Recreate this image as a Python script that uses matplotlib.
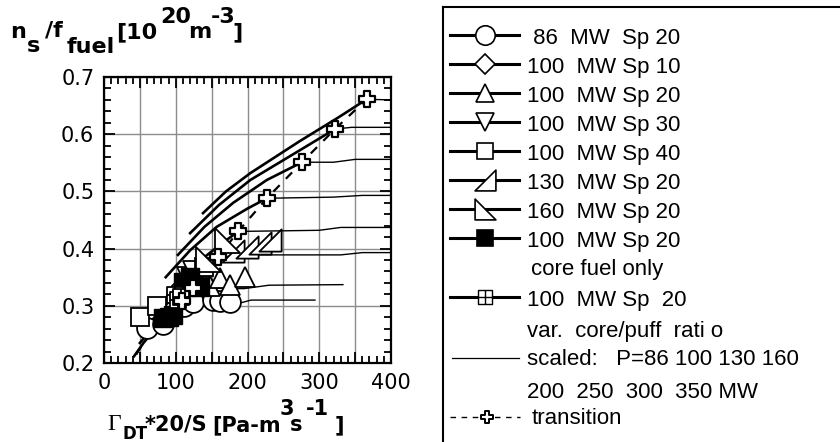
import matplotlib
matplotlib.use("Agg")
import matplotlib.pyplot as plt
from matplotlib.path import Path
from matplotlib.ticker import MultipleLocator, FuncFormatter

# scaled curves: rising part (thick) up to the transition point
P_scaled = [86, 100, 130, 160, 200, 250, 300, 350]
rise_x = {
    86: [42, 55, 70, 90, 109],
    100: [50, 70, 95, 124],
    130: [62, 85, 110, 135, 159],
    160: [72, 100, 130, 160, 187],
    200: [86, 120, 157, 200, 227],
    250: [103, 140, 180, 227, 276],
    300: [120, 160, 204, 273, 322],
    350: [138, 170, 204, 273, 325, 366],
}
rise_y = {
    86: [0.212, 0.235, 0.258, 0.287, 0.309],
    100: [0.235, 0.265, 0.300, 0.331],
    130: [0.268, 0.300, 0.333, 0.362, 0.385],
    160: [0.292, 0.335, 0.375, 0.405, 0.430],
    200: [0.350, 0.397, 0.438, 0.470, 0.488],
    250: [0.389, 0.438, 0.480, 0.520, 0.551],
    300: [0.427, 0.476, 0.520, 0.572, 0.609],
    350: [0.462, 0.500, 0.532, 0.588, 0.628, 0.661],
}
# flat part (thin) after the transition
flat_x = {
    86: [109, 190, 205, 294],
    100: [124, 195, 230, 333],
    130: [159, 199, 330, 360, 400],
    160: [187, 300, 330, 400],
    200: [227, 320, 360, 400],
    250: [276, 320, 350, 400],
    300: [322, 345, 400],
    350: [366, 400],
}
flat_y = {
    86: [0.309, 0.305, 0.310, 0.310],
    100: [0.331, 0.330, 0.336, 0.337],
    130: [0.385, 0.389, 0.389, 0.393, 0.393],
    160: [0.430, 0.432, 0.437, 0.437],
    200: [0.488, 0.490, 0.493, 0.493],
    250: [0.551, 0.551, 0.556, 0.556],
    300: [0.609, 0.612, 0.612],
    350: [0.661, 0.660],
}

# transition line
trans_x = [45, 60, 109, 124, 159, 187, 227, 276, 322, 366]
trans_y = [0.215, 0.245, 0.309, 0.331, 0.385, 0.430, 0.488, 0.551, 0.609, 0.661]
trans_mark_x = trans_x[2:]
trans_mark_y = trans_y[2:]

# experimental points
circ_x = [60, 82, 112, 124, 152, 162, 176]
circ_y = [0.262, 0.268, 0.300, 0.307, 0.310, 0.309, 0.306]
diam_x = [110, 118]
diam_y = [0.335, 0.350]
tri_up_x = [134, 148, 162, 176, 197]
tri_up_y = [0.368, 0.335, 0.348, 0.336, 0.350]
tri_dn_x = [114, 122]
tri_dn_y = [0.352, 0.362]
sq_x = [50, 74, 140]
sq_y = [0.281, 0.299, 0.368]
p130_x = [180, 199, 217, 231]
p130_y = [0.395, 0.403, 0.410, 0.415]
p160_x = [145, 171]
p160_y = [0.382, 0.415]
core_x = [82, 90, 96, 110, 120, 124, 134]
core_y = [0.279, 0.281, 0.284, 0.342, 0.350, 0.336, 0.333]
var_x = [99, 103, 108]
var_y = [0.319, 0.310, 0.315]

legend_labels = [' 86  MW  Sp 20', '100  MW Sp 10', '100  MW Sp 20', '100  MW Sp 30',
                 '100  MW Sp 40', '130  MW Sp 20', '160  MW Sp 20', '100  MW Sp 20']

# axis titles, split in pieces: (text, x px, baseline px from top)
ylab_parts = [('n', 10, 38), ('s', 27, 52), ('/f', 45, 37), ('fuel', 67, 53),
              ('[10', 116, 38), ('20', 160, 23), ('m', 188, 38), ('-3', 211, 23), (']', 232, 38)]
xlab_parts = [('*20/S', 145, 431), ('[Pa-m', 212, 431), ('3', 280, 415), ('s', 290, 431),
              ('-1', 306, 415), (']', 335, 431)]

# custom markers
tri = [Path.MOVETO, Path.LINETO, Path.LINETO, Path.CLOSEPOLY]
half_130 = Path([(1, -1), (1, 1), (-1, -1), (1, -1)], tri)
half_160 = Path([(-1, -1), (-1, 1), (1, -1), (-1, -1)], tri)
a = 1 / 3
cross = Path([(-a, 1), (a, 1), (a, a), (1, a), (1, -a), (a, -a), (a, -1), (-a, -1),
              (-a, -a), (-1, -a), (-1, a), (-a, a), (-a, 1)], closed=True)
plus_sq = Path([(-1, -1), (1, -1), (1, 1), (-1, 1), (-1, -1), (0, -1), (0, 1), (-1, 0), (1, 0)],
               [Path.MOVETO, Path.LINETO, Path.LINETO, Path.LINETO, Path.CLOSEPOLY,
                Path.MOVETO, Path.LINETO, Path.MOVETO, Path.LINETO])

fig = plt.figure(figsize=(8.4, 4.42), dpi=100)
ax = fig.add_axes([104 / 840, 1 - 363 / 442, 287 / 840, 286 / 442])

for p in P_scaled:
    ax.plot(rise_x[p], rise_y[p], color='k', lw=1.9, zorder=2)
    ax.plot(flat_x[p], flat_y[p], color='k', lw=1.0, zorder=2)
ax.plot(trans_x, trans_y, color='k', lw=1.6, ls=(0, (4, 4)), zorder=2)

mk = dict(ls='none', mfc='white', mec='k', mew=1.3, zorder=3)
ax.plot(circ_x, circ_y, marker='o', ms=15, **mk)
ax.plot(diam_x, diam_y, marker='D', ms=11, **mk)
ax.plot(tri_up_x, tri_up_y, marker='^', ms=14, **mk)
ax.plot(tri_dn_x, tri_dn_y, marker='v', ms=13, **mk)
ax.plot(sq_x, sq_y, marker='s', ms=13, **mk)
ax.plot(p130_x, p130_y, marker=half_130, ms=16, **mk)
ax.plot(p160_x, p160_y, marker=half_160, ms=18, **mk)
ax.plot(core_x, core_y, marker='s', ms=13, ls='none', mfc='k', mec='k', zorder=3)
ax.plot(var_x, var_y, marker=plus_sq, ms=12, **mk)
ax.plot(trans_mark_x, trans_mark_y, marker=cross, ms=11, ls='none', mfc='white',
        mec='k', mew=1.6, zorder=4)

ax.set_xlim(0, 400)
ax.set_ylim(0.2, 0.7)
ax.xaxis.set_major_locator(MultipleLocator(50))
ax.xaxis.set_minor_locator(MultipleLocator(10))
ax.xaxis.set_major_formatter(FuncFormatter(lambda v, pos: '%d' % v if v % 100 == 0 else ''))
ax.yaxis.set_major_locator(MultipleLocator(0.1))
ax.yaxis.set_minor_locator(MultipleLocator(0.02))
ax.yaxis.set_major_formatter(FuncFormatter(lambda v, pos: '%.1f' % v))
ax.grid(True, which='major', color='#8c8c8c', lw=1.0, zorder=0)
ax.set_axisbelow(True)
ax.tick_params(which='both', direction='in', top=True, right=True, width=1.3,
               labelsize=15, colors='k')
ax.tick_params(which='major', length=8, pad=7)
ax.tick_params(which='minor', length=5)
for s in ax.spines.values():
    s.set_linewidth(1.6)

bold = dict(transform=None, fontweight='bold', family='DejaVu Sans', va='baseline')
for t, x, y in ylab_parts:
    fig.text(x, 442 - y, t, fontsize=16, **bold)
fig.text(107, 442 - 430, '\u0393', transform=None, fontsize=17, family='Liberation Serif',
         va='baseline')
fig.text(123, 442 - 439, 'DT', fontsize=12, **bold)
for t, x, y in xlab_parts:
    fig.text(x, 442 - y, t, fontsize=15, **bold)

# legend panel, drawn in pixel units
lg = fig.add_axes([443 / 840, 0, 405 / 840, 435 / 442])
lg.set_xlim(443, 848)
lg.set_ylim(442, 7)
lg.set_xticks([])
lg.set_yticks([])
lg.spines['right'].set_visible(False)
lg.spines['bottom'].set_visible(False)
lg.spines['left'].set_linewidth(1.5)
lg.spines['top'].set_linewidth(1.5)

leg_markers = [('o', 14, 'white'), ('D', 10, 'white'), ('^', 13, 'white'), ('v', 13, 'white'),
               ('s', 12, 'white'), (half_130, 15, 'white'), (half_160, 15, 'white'), ('s', 12, 'k')]
tf = dict(fontsize=16, family='Liberation Sans', va='baseline')
for i, (lab, (m, ms, fc)) in enumerate(zip(legend_labels, leg_markers)):
    yc = 35 + 29 * i
    lg.plot([450, 519], [yc, yc], color='k', lw=2.2)
    lg.plot([485], [yc], marker=m, ms=ms, mfc=fc, mec='k', mew=1.2)
    lg.text(527, yc + 9, lab, **tf)
lg.text(531, 275, 'core fuel only', **tf)
lg.plot([450, 519], [297, 297], color='k', lw=2.2)
lg.plot([485], [297], marker=plus_sq, ms=10, mfc='white', mec='k', mew=1.0)
lg.text(527, 306, '100  MW Sp  20', **tf)
lg.text(527, 337, 'var.  core/puff  rati o', **tf)
lg.plot([452, 519], [358, 358], color='k', lw=0.9)
lg.text(527, 365, 'scaled:   P=86 100 130 160', **tf)
lg.text(527, 398, '200  250  300  350 MW', **tf)
lg.plot([450, 520], [417, 417], color='k', lw=1.0, ls=(0, (4, 4)))
lg.plot([487], [417], marker=cross, ms=9, mfc='white', mec='k', mew=1.4)
lg.text(532, 424, 'transition', **tf)

fig.savefig('out.png', dpi=100)
